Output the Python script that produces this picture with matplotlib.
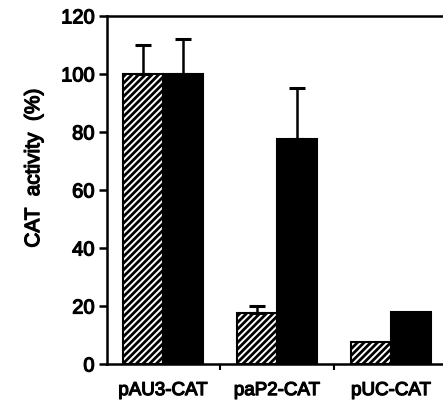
import numpy as np
import matplotlib.pyplot as plt
import matplotlib.patheffects as pe

plt.rcParams['font.family'] = ['Liberation Sans', 'DejaVu Sans']
plt.rcParams['hatch.linewidth'] = 2.0

constructs = ["pAU3-CAT", "paP2-CAT", "pUC-CAT"]
hatched_vals = [100, 17.5, 7.5]
hatched_err = [10, 2.5, 0]
black_vals = [100, 77.5, 18]
black_err = [12, 17.5, 0]

fig = plt.figure(figsize=(4.43, 4.02), dpi=100)
ax = fig.add_axes([0.2415, 0.092, 0.7585, 0.866])

x = np.arange(len(constructs))
w = 0.35
ax.bar(x - w / 2, hatched_vals, w, color="white", edgecolor="black",
       hatch="/////", linewidth=1.5)
ax.bar(x + w / 2, black_vals, w, color="black", edgecolor="black", linewidth=1.5)

# upward-only error bars
for xs, v, e in [(x - w / 2, hatched_vals, hatched_err), (x + w / 2, black_vals, black_err)]:
    for xi, vi, ei in zip(xs, v, e):
        if ei > 0:
            ax.errorbar(xi, vi, yerr=[[0], [ei]], fmt="none", ecolor="black",
                        elinewidth=1.8, capsize=6, capthick=2.2)

ax.set_xlim(-0.491, 2.456)
ax.set_ylim(0, 120)
ax.set_yticks(range(0, 121, 20))
ax.set_xticks(x)
ax.set_xticklabels(constructs)
ax.set_xticks([0.5, 1.5], minor=True)
ax.tick_params(axis="x", which="major", length=0, pad=13, labelsize=13.5)
ax.tick_params(axis="x", which="minor", length=4, width=1.5, direction="out")
ax.tick_params(axis="y", length=6, width=1.8, labelsize=14.5, pad=3)

# slightly heavier than regular, like the scanned Helvetica
thick = [pe.withStroke(linewidth=0.9, foreground="black")]
for lab in ax.get_yticklabels() + ax.get_xticklabels():
    lab.set_path_effects(thick)

ax.spines["right"].set_visible(False)
for s in ["left", "bottom", "top"]:
    ax.spines[s].set_linewidth(1.8)

ylab = ax.set_ylabel("CAT  activity  (%)", fontsize=15)
ylab.set_path_effects(thick)
ax.yaxis.set_label_coords(-0.19, 0.563)

fig.savefig("out.png", dpi=100)
